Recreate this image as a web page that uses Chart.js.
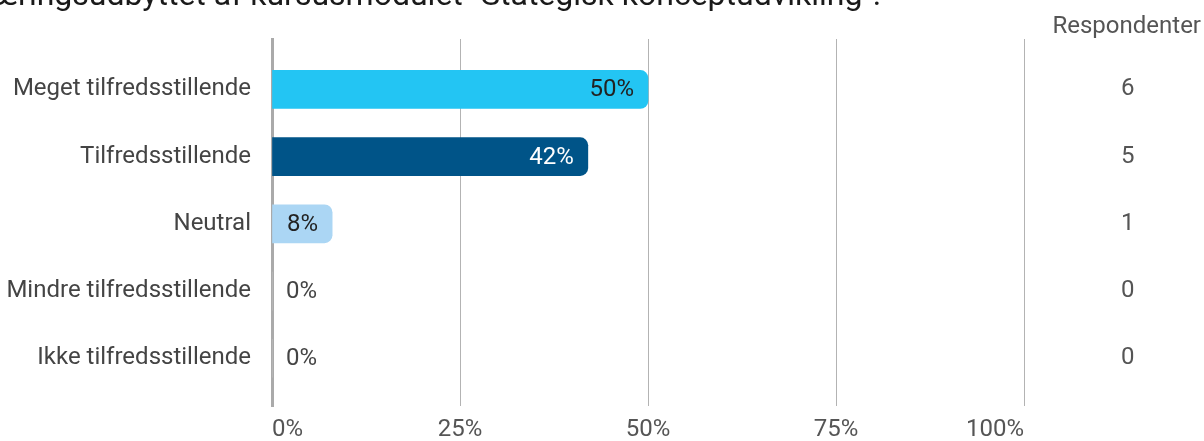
<!DOCTYPE html>
<html>
<head>
<meta charset="utf-8">
<script src="https://cdn.jsdelivr.net/npm/chart.js@4/dist/chart.umd.min.js"></script>
<style>
    body { margin: 0; background: #fff; }
    #wrap { width: 1204px; height: 441px; position: relative; }
</style>
</head>
<body>
<div id="wrap"><canvas id="satisfactionChart"></canvas></div>
<script>
// Data
const titleText = 'æringsudbyttet af kursusmodulet "Stategisk konceptudvikling".';
const columnHeader = 'Respondenter';
const categories = ['Meget tilfredsstillende', 'Tilfredsstillende', 'Neutral', 'Mindre tilfredsstillende', 'Ikke tilfredsstillende'];
const percentages = [50, 42, 8, 0, 0];
const respondents = [6, 5, 1, 0, 0];
const xTicks = [0, 25, 50, 75, 100];

const barColors = ['#23c5f3', '#005488', '#abd6f4', '#cccccc', '#cccccc'];
const labelColors = ['#222222', '#ffffff', '#222222', '#444444', '#444444'];
const FONT = { family: 'Roboto', size: 24 };

const rowTicks = scale => { scale.ticks = categories.map((_, i) => ({ value: i })); };
// y-akser: fast bredde, ingen ekstra top/bund padding
const fixWidth = w => scale => {
    scale.width = w;
    scale.paddingTop = 0;
    scale.paddingBottom = 0;
};

// Titel + kolonneoverskrift + procentlabels
const extrasPlugin = {
    id: 'extras',
    afterDatasetsDraw(chart) {
        const ctx = chart.ctx;
        ctx.save();
        ctx.font = `${FONT.size}px ${FONT.family}`;
        ctx.textBaseline = 'middle';
        chart.getDatasetMeta(0).data.forEach((bar, i) => {
            const v = percentages[i];
            ctx.fillStyle = labelColors[i];
            if (v >= 5) {
                ctx.textAlign = 'right';
                ctx.fillText(v + '%', bar.x - 14, bar.y + 1);
            } else {
                ctx.textAlign = 'left';
                ctx.fillText(v + '%', bar.base + 14, bar.y + 1);
            }
        });
        ctx.textAlign = 'right';
        ctx.fillStyle = '#555555';
        ctx.fillText(columnHeader, 1201, 27);

        ctx.font = `32px ${FONT.family}`;
        ctx.textAlign = 'left';
        ctx.textBaseline = 'alphabetic';
        ctx.fillStyle = '#1a1a1a';
        ctx.fillText(titleText, -9, 5);
        ctx.restore();
    }
};

new Chart(document.getElementById('satisfactionChart'), {
    type: 'bar',
    data: {
        datasets: [{
            data: percentages.map((v, i) => ({ x: v, y: i })),
            backgroundColor: barColors,
            borderWidth: 0,
            borderRadius: 8,
            borderSkipped: 'start',
            barThickness: 38,
            xAxisID: 'x',
            yAxisID: 'y'
        }]
    },
    options: {
        indexAxis: 'y',
        responsive: true,
        maintainAspectRatio: false,
        animation: false,
        layout: { padding: { top: 39, left: 0, right: 0, bottom: 0 } },
        plugins: { legend: { display: false }, tooltip: { enabled: false } },
        scales: {
            x: {
                type: 'linear',
                min: 0,
                max: 100,
                afterBuildTicks: s => { s.ticks = xTicks.map(v => ({ value: v })); },
                afterFit: s => { s.height = 35; s.paddingLeft = 0; s.paddingRight = 0; },
                grid: { color: '#b3b3b3', lineWidth: 1, drawTicks: false },
                border: { display: false },
                ticks: { callback: v => v + '%', align: 'inner', padding: 10, color: '#555555', font: FONT }
            },
            y: {
                type: 'linear',
                reverse: true,
                offset: false,
                min: -0.75,
                max: 4.71,
                afterBuildTicks: rowTicks,
                afterFit: fixWidth(272),
                grid: { display: true, drawOnChartArea: false, tickLength: 21, color: 'rgba(0,0,0,0)' },
                border: { color: '#aaaaaa', width: 3 },
                ticks: { callback: v => categories[v], padding: 0, color: '#444444', font: FONT }
            },
            y2: {
                type: 'linear',
                position: 'right',
                reverse: true,
                offset: false,
                min: -0.75,
                max: 4.71,
                afterBuildTicks: rowTicks,
                afterFit: fixWidth(180),
                grid: { display: true, drawOnChartArea: false, tickLength: 97, color: 'rgba(0,0,0,0)' },
                border: { display: false },
                ticks: { callback: v => respondents[v], padding: 0, color: '#555555', font: FONT }
            }
        }
    },
    plugins: [extrasPlugin]
});
</script>
</body>
</html>
